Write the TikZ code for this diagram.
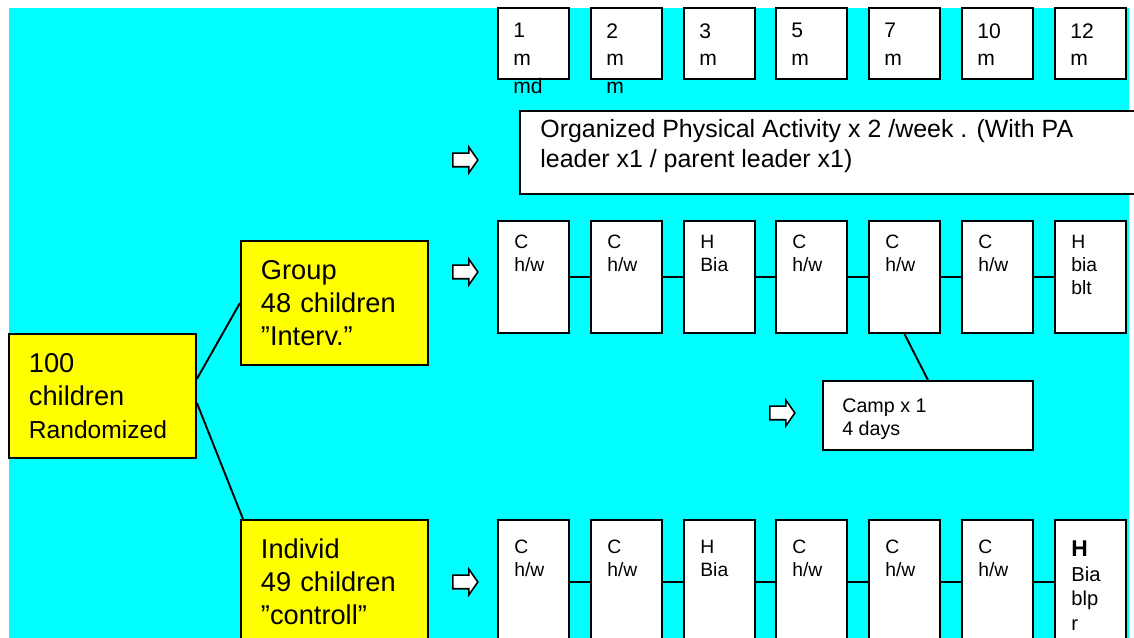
\documentclass[tikz,border=0pt]{standalone}
\usepackage{fontspec}
\setmainfont{Liberation Sans}
\usetikzlibrary{shapes.arrows}
\definecolor{sky}{RGB}{0,255,255}
\definecolor{lemon}{RGB}{255,255,0}

\begin{document}
\begin{tikzpicture}[x=0.02cm, y=-0.02cm,
    box/.style={draw, line width=1.1pt, fill=white, inner sep=0pt, anchor=north west},
    month/.style={box, minimum width=1.42cm, minimum height=1.42cm},
    visit/.style={box, minimum width=1.42cm, minimum height=2.24cm},
    visitlow/.style={box, minimum width=1.42cm, minimum height=2.48cm},
    arm/.style={draw, line width=1.1pt, fill=lemon, anchor=north west, minimum width=3.74cm,
        minimum height=2.48cm, text width=2.94cm, inner xsep=0.4cm, align=left,
        font=\fontsize{15.5}{18.7}\selectfont},
    monthtxt/.style={anchor=north west, align=left, inner xsep=0.32cm, inner ysep=0.32cm,
        font=\fontsize{12}{15.9}\selectfont},
    visittxt/.style={anchor=north west, align=left, inner xsep=0.34cm, inner ysep=0.3cm,
        font=\fontsize{11}{13}\selectfont},
    lowtxt/.style={visittxt, inner ysep=0.42cm},
    camptxt/.style={anchor=north west, align=left, inner xsep=0.4cm, inner ysep=0.36cm,
        font=\fontsize{11.2}{13.6}\selectfont},
    infotxt/.style={anchor=north west, align=left, inner xsep=0.42cm, inner ysep=0.18cm,
        font=\fontsize{14.2}{17}\selectfont},
    go/.style={single arrow, draw, line width=0.9pt, fill=white, inner sep=0pt,
        text height=0.24cm, text depth=0pt, single arrow head extend=0.12cm,
        single arrow tip angle=110, minimum height=0.5cm},
    link/.style={line width=1.1pt}]

    \useasboundingbox (0,0) rectangle (1134,638);
    \fill[sky] (9,8) rectangle (1129,640);

    \node[month, label={[monthtxt]north west:1\\m\\md}] (m1) at (497,7) {};
    \node[month, label={[monthtxt]north west:2\\m\\m}] (m2) at (590,7) {};
    \node[month, label={[monthtxt]north west:3\\m}] (m3) at (683,7) {};
    \node[month, label={[monthtxt]north west:5\\m}] (m4) at (775,7) {};
    \node[month, label={[monthtxt]north west:7\\m}] (m5) at (868,7) {};
    \node[month, label={[monthtxt]north west:10\\m}] (m6) at (961,7) {};
    \node[month, label={[monthtxt]north west:12\\m}] (m7) at (1054,7) {};

    \node[box, minimum width=12.42cm, minimum height=1.66cm,
        label={[infotxt]north west:Organized Physical Activity x 2 /week . (With PA\\leader x1 / parent leader x1)}] (pa) at (519,110) {};

    \node[arm] (rand) at (8,333) {100\\children\\{\fontsize{14}{17}\selectfont Randomized}};
    \node[arm] (grp) at (240,240) {Group\\48 children\\”Interv.”};
    \node[arm] (ind) at (240,519) {Individ\\49 children\\”controll”};

    \node[go] (a1) at (463,160) {};
    \node[go] (a2) at (463,272) {};
    \node[go] (a3) at (780,413) {};
    \node[go] (a4) at (463,582) {};

    \node[visit, label={[visittxt]north west:C\\h/w}] (v1) at (497,220) {};
    \node[visit, label={[visittxt]north west:C\\h/w}] (v2) at (590,220) {};
    \node[visit, label={[visittxt]north west:H\\Bia}] (v3) at (683,220) {};
    \node[visit, label={[visittxt]north west:C\\h/w}] (v4) at (775,220) {};
    \node[visit, label={[visittxt]north west:C\\h/w}] (v5) at (868,220) {};
    \node[visit, label={[visittxt]north west:C\\h/w}] (v6) at (961,220) {};
    \node[visit, label={[visittxt]north west:H\\bia\\blt}] (v7) at (1054,220) {};

    \node[box, minimum width=4.2cm, minimum height=1.38cm,
        label={[camptxt]north west:Camp x 1\\4 days}] (camp) at (822,380) {};

    \node[visitlow, label={[lowtxt]north west:C\\h/w}] (w1) at (497,519) {};
    \node[visitlow, label={[lowtxt]north west:C\\h/w}] (w2) at (590,519) {};
    \node[visitlow, label={[lowtxt]north west:H\\Bia}] (w3) at (683,519) {};
    \node[visitlow, label={[lowtxt]north west:C\\h/w}] (w4) at (775,519) {};
    \node[visitlow, label={[lowtxt]north west:C\\h/w}] (w5) at (868,519) {};
    \node[visitlow, label={[lowtxt]north west:C\\h/w}] (w6) at (961,519) {};
    \node[visitlow, label={[lowtxt, font=\fontsize{11.5}{14.2}\selectfont]north west:{\fontsize{13}{14.2}\selectfont\bfseries H}\\Bia\\blp\\r}] (w7) at (1054,519) {};

    \draw[link] ([yshift=0.34cm]rand.east) -- (grp.west);
    \draw[link] ([yshift=-0.14cm]rand.east) -- ([xshift=0.06cm]ind.north west);
    \draw[link] (v5.south) -- (camp.north);
    \foreach \a/\b in {v1/v2, v2/v3, v3/v4, v4/v5, v5/v6, v6/v7, w1/w2, w2/w3, w3/w4, w4/w5, w5/w6, w6/w7}
        \draw[link] (\a.east) -- (\b.west);
\end{tikzpicture}
\end{document}
